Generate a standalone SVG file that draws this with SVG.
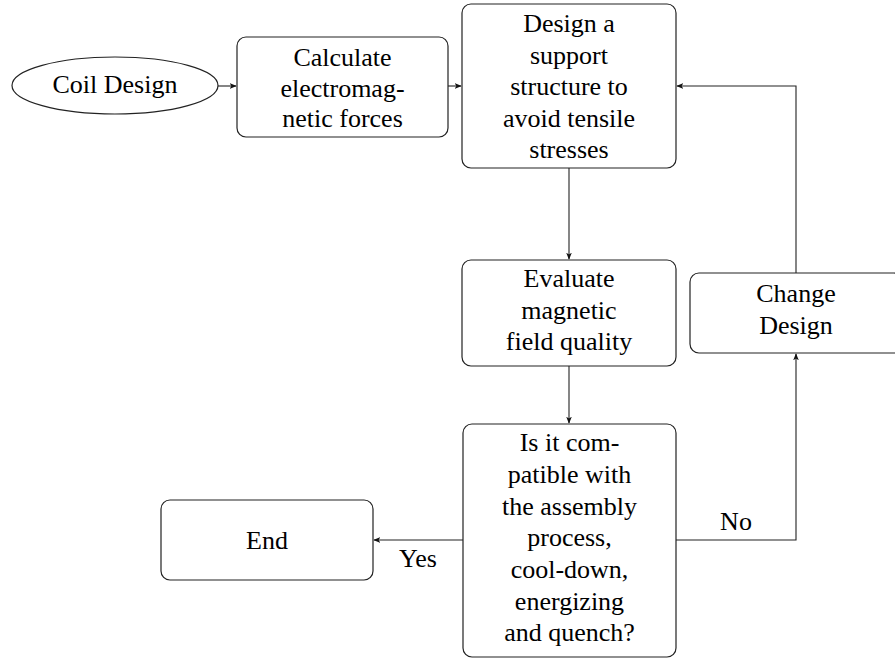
<svg xmlns="http://www.w3.org/2000/svg" width="895" height="660" viewBox="0 0 895 660">
<style>
.n{fill:#fff;stroke:#222;stroke-width:1.2}
.c{fill:none;stroke:#222;stroke-width:1.1}
text{font-family:"Liberation Serif","Times New Roman",serif;font-size:26px;fill:#000;text-anchor:middle}
</style>
<defs>
<marker id="a" viewBox="0 0 10 10" refX="9" refY="5" markerWidth="7" markerHeight="7" markerUnits="userSpaceOnUse" orient="auto">
<path d="M0,1 L10,5 L0,9 L2.5,5 Z" fill="#111"/>
</marker>
</defs>
<rect width="895" height="660" fill="#fff"/>
<g id="connectors">
<path class="c" d="M218,86 H236" marker-end="url(#a)"/>
<path class="c" d="M448,86 H461" marker-end="url(#a)"/>
<path class="c" d="M569,168 V259" marker-end="url(#a)"/>
<path class="c" d="M569,366 V423" marker-end="url(#a)"/>
<path class="c" d="M463,540 H374" marker-end="url(#a)"/>
<path class="c" d="M676,540 H796 V354" marker-end="url(#a)"/>
<path class="c" d="M796,273 V86 H677" marker-end="url(#a)"/>
<text x="418" y="567">Yes</text>
<text x="736" y="530">No</text>
</g>
<g id="coil">
<ellipse class="n" cx="115" cy="85.5" rx="103" ry="28.5"/>
<text x="115" y="93">Coil Design</text>
</g>
<g id="calc">
<rect class="n" x="237" y="37" width="211" height="100" rx="9"/>
<text x="342.5" y="66">Calculate</text>
<text x="342.5" y="97">electromag-</text>
<text x="342.5" y="127">netic forces</text>
</g>
<g id="support">
<rect class="n" x="462" y="4" width="214" height="164" rx="9"/>
<text x="569" y="32">Design a</text>
<text x="569" y="63.5">support</text>
<text x="569" y="95">structure to</text>
<text x="569" y="127">avoid tensile</text>
<text x="569" y="158">stresses</text>
</g>
<g id="evaluate">
<rect class="n" x="462" y="260" width="214" height="106" rx="9"/>
<text x="569" y="287">Evaluate</text>
<text x="569" y="318.5">magnetic</text>
<text x="569" y="350">field quality</text>
</g>
<g id="question">
<rect class="n" x="463" y="424" width="213" height="233" rx="9"/>
<text x="569.5" y="451">Is it com-</text>
<text x="569.5" y="483">patible with</text>
<text x="569.5" y="514.5">the assembly</text>
<text x="569.5" y="546">process,</text>
<text x="569.5" y="578">cool-down,</text>
<text x="569.5" y="609.5">energizing</text>
<text x="569.5" y="641">and quench?</text>
</g>
<g id="end">
<rect class="n" x="161" y="500" width="212" height="80" rx="9"/>
<text x="267" y="549">End</text>
</g>
<g id="change">
<rect class="n" x="690" y="273" width="213" height="80" rx="9"/>
<text x="796" y="302">Change</text>
<text x="796" y="334">Design</text>
</g>
</svg>
